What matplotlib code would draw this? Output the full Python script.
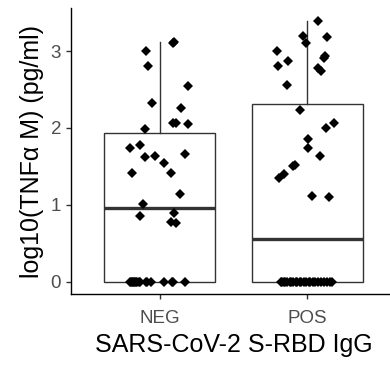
import matplotlib
matplotlib.use('Agg')
import matplotlib.pyplot as plt

plt.rcParams['font.family'] = ['Liberation Sans', 'DejaVu Sans']

groups = ['NEG', 'POS']

# values (log10 pg/ml); jitter = horizontal offset of each dot
neg_values = [3.12, 3.10, 3.00, 2.81, 2.55, 2.32, 2.26, 2.07, 2.07, 2.05, 1.98, 1.78,
              1.74, 1.66, 1.63, 1.62, 1.55, 1.42, 1.42, 1.14, 1.01, 0.90, 0.86, 0.78,
              0.76,
              0, 0, 0, 0, 0, 0, 0, 0, 0, 0, 0, 0, 0, 0, 0, 0, 0]
neg_jitter = [0.10, 0.09, -0.09, -0.08, 0.19, -0.05, 0.145, 0.09, 0.11, 0.195, -0.10, -0.13,
              -0.20, 0.175, -0.03, -0.10, 0.03, -0.19, 0.08, 0.14, -0.11, 0.095, -0.13, 0.08,
              0.11,
              -0.20, -0.195, -0.19, -0.18, -0.175, -0.17, -0.16, -0.15, -0.14, -0.135,
              -0.09, -0.085, -0.06, 0.03, 0.085, 0.09, 0.17]

pos_values = [3.39, 3.20, 3.18, 3.11, 3.00, 2.93, 2.91, 2.87, 2.81, 2.78, 2.74, 2.56,
              2.23, 2.06, 2.00, 1.86, 1.74, 1.63, 1.52, 1.50, 1.40, 1.35, 1.12, 1.10,
              0, 0, 0, 0, 0, 0, 0, 0, 0, 0, 0, 0, 0, 0, 0, 0, 0, 0, 0, 0, 0, 0, 0, 0]
pos_jitter = [0.075, -0.03, 0.135, -0.01, -0.205, 0.12, 0.115, -0.13, -0.20, 0.07, 0.09, -0.14,
              -0.05, 0.18, 0.125, 0.005, 0.005, 0.085, -0.085, -0.10, -0.155, -0.19, 0.03, 0.145,
              -0.18, -0.17, -0.16, -0.15, -0.14, -0.12, -0.11, -0.10, -0.08, -0.07, -0.05, -0.04,
              -0.02, -0.01, 0.01, 0.02, 0.04, 0.05, 0.07, 0.09, 0.11, 0.13, 0.15, 0.17]

fig = plt.figure(figsize=(3.9, 3.69), dpi=100)
ax = fig.add_axes([71/390, 75/369, 325/390, 286/369])

box_line = '#333333'
ax.boxplot([neg_values, pos_values], positions=[1, 2], widths=0.75, whis=1.5,
           showfliers=False, showcaps=False, patch_artist=True,
           boxprops=dict(facecolor='white', edgecolor=box_line, linewidth=1.0),
           whiskerprops=dict(color=box_line, linewidth=1.0),
           medianprops=dict(color=box_line, linewidth=2.4, solid_capstyle='butt'),
           zorder=1)

for i, (vals, jit) in enumerate([(neg_values, neg_jitter), (pos_values, pos_jitter)]):
    xs = [i + 1 + j for j in jit]
    ax.plot(xs, vals, 'D', color='black', markersize=5.3, markeredgewidth=0, zorder=3)

ax.set_xlim(0.4, 2.6)
ax.set_ylim(-0.16, 3.56)
ax.set_xticks([1, 2])
ax.set_xticklabels(groups)
ax.set_yticks([0, 1, 2, 3])

for s in ['top', 'right']:
    ax.spines[s].set_visible(False)
for s in ['left', 'bottom']:
    ax.spines[s].set_color('black')
    ax.spines[s].set_linewidth(1.0)

ax.tick_params(length=3.6, width=1.0, color='#333333', labelcolor='#4D4D4D',
               labelsize=13.5)
ax.tick_params(axis='x', pad=8)
ax.tick_params(axis='y', pad=3.5)

ax.set_xlabel('SARS-CoV-2 S-RBD IgG', fontsize=18, labelpad=4)
ax.set_ylabel('log10(TNFα M) (pg/ml)', fontsize=18, labelpad=5)

fig.savefig('out.png', dpi=100)
